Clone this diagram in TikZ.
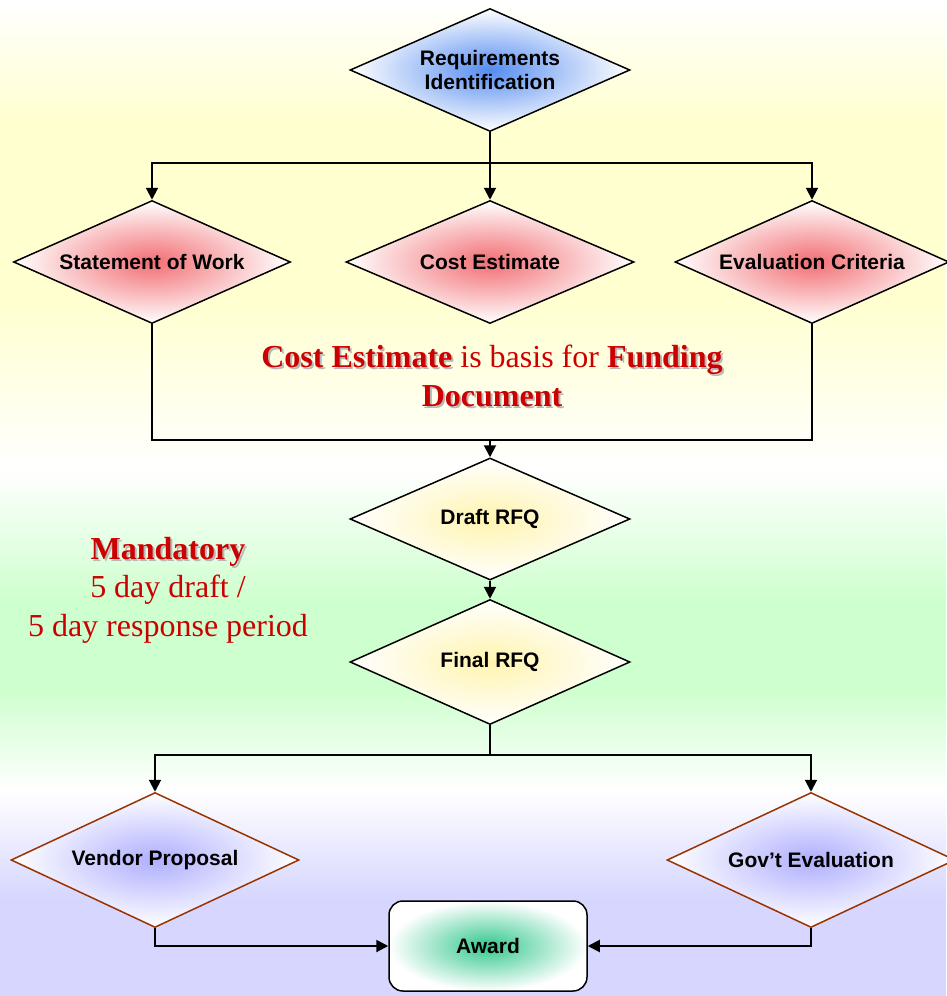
\documentclass[tikz,border=0pt]{standalone}
\usepackage{fontspec}
\setmainfont{Liberation Serif}
\setsansfont{Liberation Sans}
\usetikzlibrary{shapes.geometric, arrows.meta}
\tikzset{
	decision/.style={
		draw,
		diamond,
		aspect=2.3,
		line width=1.5pt,
		inner sep=0pt,
		minimum width=280pt,
		minimum height=123pt,
		outer color=white,
		align=center,
		font=\sffamily\bfseries\fontsize{21}{24}\selectfont
	},
	note/.style={
		text=noteRed,
		align=center,
		font=\fontsize{32}{38.5}\selectfont
	}
}
\definecolor{noteRed}{RGB}{204,0,0}
\definecolor{edgeBrown}{RGB}{153,51,0}
\definecolor{glowBlue}{RGB}{85,140,240}
\definecolor{glowRed}{RGB}{242,110,115}
\definecolor{glowYellow}{RGB}{255,244,175}
\definecolor{glowLilac}{RGB}{175,175,255}
\definecolor{glowGreen}{RGB}{50,200,140}
\definecolor{bandYellow}{RGB}{255,255,208}
\definecolor{bandGreen}{RGB}{206,255,206}
\definecolor{bandLilac}{RGB}{214,214,255}
% bold words with a soft shadow
\newcommand\shbf[1]{\rlap{\kern2pt\raisebox{-2pt}{\color{black!28}\textbf{#1}}}\textbf{#1}}

\begin{document}
\begin{tikzpicture}[x=1pt, y=-1pt]
	\tikzset{edge/.style={-{Triangle[length=12pt,width=12pt]}, line width=2pt}}
	\tikzset{wire/.style={line width=2pt}}
	\useasboundingbox (0,0) rectangle (946,996);

	% background bands
	\shade[top color=white, bottom color=bandYellow] (0,0) rectangle (946,120);
	\fill[bandYellow] (0,120) rectangle (946,300);
	\shade[top color=bandYellow, bottom color=white] (0,300) rectangle (946,470);
	\shade[top color=white, bottom color=bandGreen] (0,470) rectangle (946,600);
	\fill[bandGreen] (0,600) rectangle (946,690);
	\shade[top color=bandGreen, bottom color=white] (0,690) rectangle (946,790);
	\shade[top color=white, bottom color=bandLilac] (0,790) rectangle (946,900);
	\fill[bandLilac] (0,900) rectangle (946,996);

	\node(reqid) at (490,70) [decision, inner color=glowBlue] {Requirements\\Identification};
	\node(sow) at (152,262) [decision, minimum width=277pt, inner color=glowRed] {Statement of Work};
	\node(costest) at (490,262) [decision, minimum width=288pt, inner color=glowRed] {Cost Estimate};
	\node(evalcrit) at (812,262) [decision, minimum width=274pt, inner color=glowRed] {Evaluation Criteria};
	\node(draft) at (490,519) [decision, minimum height=122pt, inner color=glowYellow] {Draft RFQ};
	\node(final) at (490,662) [decision, minimum height=125pt, inner color=glowYellow] {Final RFQ};
	\node(vendor) at (155,860) [decision, draw=edgeBrown, minimum width=288pt, minimum height=135pt, inner color=glowLilac] {Vendor Proposal};
	\node(goveval) at (811,860) [decision, draw=edgeBrown, minimum width=288pt, minimum height=135pt, inner color=glowLilac] {Gov’t Evaluation};
	\node(award) at (488,946) [draw, rounded corners=14pt, line width=1.5pt, minimum width=198pt, minimum height=90pt,
		outer color=white, inner color=glowGreen, font=\sffamily\bfseries\fontsize{21}{24}\selectfont] {Award};

	\node(fundnote) at (492,377) [note] {\shbf{Cost Estimate} is basis for \shbf{Funding}\\ \shbf{Document}};
	\node(mandnote) at (168,590) [note] {\shbf{Mandatory}\\ 5 day draft /\\ 5 day response period};

	\coordinate(fork1) at (490,163);
	\coordinate(join1) at (490,440);
	\coordinate(fork2) at (490,755);

	\draw[wire](reqid.south) -- (fork1);
	\draw[edge](fork1) -| (sow.north);
	\draw[edge](fork1) -- (costest.north);
	\draw[edge](fork1) -| (evalcrit.north);
	\draw[wire](sow.south) |- (join1);
	\draw[wire](evalcrit.south) |- (join1);
	\draw[edge](join1) -- (draft.north);
	\draw[edge](draft) -- (final);
	\draw[wire](final.south) -- (fork2);
	\draw[edge](fork2) -| (vendor.north);
	\draw[edge](fork2) -| (goveval.north);
	\draw[edge](vendor.south) |- (award.west);
	\draw[edge](goveval.south) |- (award.east);
\end{tikzpicture}
\end{document}
